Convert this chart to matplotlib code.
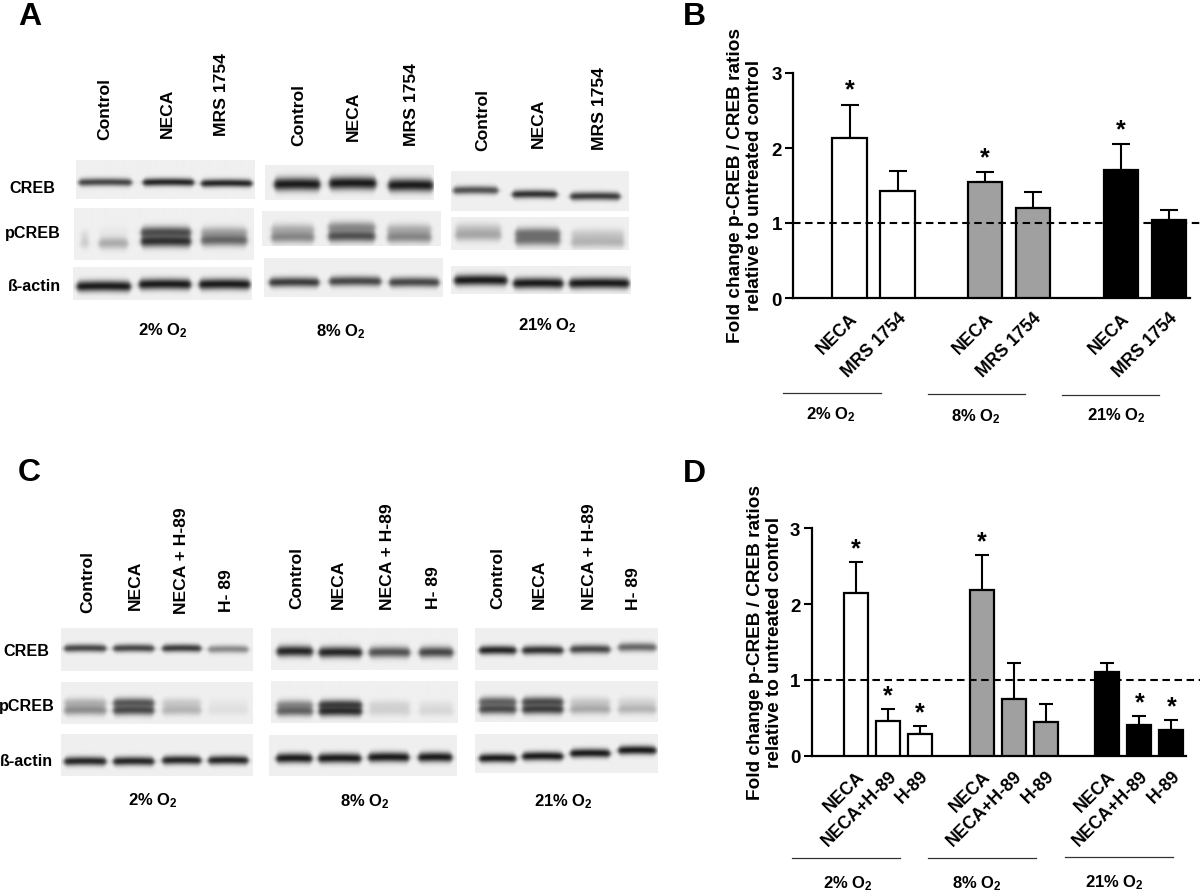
"""
Western blots and fold change bar charts (panels A-D).
"""

import matplotlib
matplotlib.use('Agg')
import matplotlib.pyplot as plt
import numpy as np

plt.rcParams['font.family'] = ['Liberation Sans', 'DejaVu Sans']
plt.rcParams['font.weight'] = 'bold'
plt.rcParams['mathtext.fontset'] = 'custom'
plt.rcParams['mathtext.bf'] = 'Liberation Sans:bold'
plt.rcParams['mathtext.rm'] = 'Liberation Sans:bold'
plt.rcParams['mathtext.default'] = 'bf'

# bar chart values
b_labels = ['NECA', 'MRS 1754', 'NECA', 'MRS 1754', 'NECA', 'MRS 1754']
b_means = [2.13, 1.43, 1.55, 1.20, 1.71, 1.04]
b_tops = [2.58, 1.69, 1.68, 1.41, 2.05, 1.17]
b_stars = [True, False, True, False, True, False]

d_labels = ['NECA', 'NECA+H-89', 'H-89'] * 3
d_means = [2.15, 0.46, 0.29, 2.18, 0.75, 0.45, 1.11, 0.41, 0.34]
d_tops = [2.55, 0.62, 0.39, 2.64, 1.23, 0.68, 1.23, 0.52, 0.47]
d_stars = [True, True, True, True, False, False, False, True, True]

o2_labels = ['2% O$_2$', '8% O$_2$', '21% O$_2$']
y_text = 'Fold change p-CREB / CREB ratios\nrelative to untreated control'

# band darkness per lane, read from the blots (0 = none, 1 = black)
a_creb = [[.75, .9, .9], [.95, .95, .95], [.7, .85, .8]]
a_pcreb_up = [[.08, .03, .7, .3], [.25, .42, .25], [.15, .5, .15]]
a_pcreb_low = [[.15, .3, .85, .6], [.45, .7, .45], [.3, .5, .25]]
a_actin = [[.95, .95, .95], [.8, .75, .75], [.95, .95, .95]]

c_creb = [[.75, .75, .8, .45], [.9, .9, .7, .75], [.9, .85, .75, .6]]
c_pcreb_up = [[.25, .65, .15, .03], [.4, .75, .1, .05], [.6, .7, .15, .1]]
c_pcreb_low = [[.42, .72, .25, .07], [.6, .85, .12, .1], [.72, .78, .3, .25]]
c_actin = [[.9, .9, .9, .9], [.95, .95, .95, .95], [.95, .95, .95, .95]]


def draw_blot(ax, rect, lanes, rows):
    """Draw one blot strip. rows holds (y, half thickness, darkness per lane)."""
    x0, y0, x1, y1 = rect
    xx = np.arange(x0, x1, 0.5)
    yy = np.arange(y0, y1, 0.5)
    X, Y = np.meshgrid(xx, yy)
    img = np.full(X.shape, 0.94)
    for y, thick, darks in rows:
        ys = y if np.ndim(y) else [y] * len(lanes)
        for (a, b), yc, dark in zip(lanes, ys, darks):
            mid = (a + b) / 2
            half = (b - a) / 2
            px = 0.5 * (np.tanh((X - a) / 2.5) - np.tanh((X - b) / 2.5))
            centre = yc + 0.5 * ((X - mid) / half) ** 2 - 0.25
            width = thick * (0.6 + 0.4 * px)
            py = np.exp(-np.abs((Y - centre) / width) ** 2.0)
            img *= 1 - 0.93 * dark * px * py
    ax.imshow(img, extent=(x0, x1, y1, y0), cmap='gray', vmin=0, vmax=1,
              aspect='auto', interpolation='bilinear', zorder=1)


def draw_bars(fig_rect, pos, means, tops, labels, stars, colors, width, cap, xlim, dash_end, star_gap):
    """Bar chart with upper error bars, dashed line at 1 and rotated labels."""
    ax = fig.add_axes(fig_rect, facecolor='none')
    ax.bar(pos, means, width=width, color=colors, edgecolor='black', linewidth=1.6, zorder=3)
    err = np.array(tops) - np.array(means)
    ax.errorbar(pos, means, yerr=[np.zeros(len(err)), err], fmt='none', ecolor='black',
                elinewidth=1.5, capsize=cap, capthick=1.5, zorder=2)
    ax.plot([xlim[0], dash_end], [1, 1], color='black', linestyle=(0, (3.6, 2.2)), linewidth=1.5,
            clip_on=False, zorder=4)
    for p, t, s in zip(pos, tops, stars):
        if s:
            ax.text(p, t + star_gap, '*', ha='center', va='center', fontsize=18, zorder=5)
    ax.set_xlim(*xlim)
    ax.set_ylim(0, 3)
    ax.set_yticks([0, 1, 2, 3])
    ax.set_xticks(pos)
    ax.set_xticklabels(labels, rotation=45, ha='right', va='top', rotation_mode='anchor', fontsize=12.7)
    ax.tick_params(axis='x', length=0, pad=8)
    ax.tick_params(axis='y', length=6, width=1.5, labelsize=13.5, pad=2)
    for side in ['top', 'right']:
        ax.spines[side].set_visible(False)
    for side in ['left', 'bottom']:
        ax.spines[side].set_linewidth(1.6)
    return ax


fig = plt.figure(figsize=(12, 8.95), dpi=100)
bg = fig.add_axes([0, 0, 1, 1])

# panel A blots
a_rects = [
    [(75.5, 161, 254, 200), (73.5, 209, 253, 261), (72.5, 268, 251, 301)],
    [(265, 166, 434, 201), (262, 212, 441, 247), (264, 259, 443, 298)],
    [(451, 172, 629, 212), (451, 218, 629, 251), (451, 267, 631, 295)],
]
a_creb_lanes = [[(78, 131), (142, 193), (200, 251)], [(274, 320), (329, 376), (388, 433)],
                [(453, 498), (512, 557), (570, 620)]]
a_pcreb_lanes = [[(80, 88), (98, 127), (140, 190), (200, 246)], [(271, 314), (328, 375), (387, 431)],
                 [(455, 501), (515, 560), (571, 624)]]
a_actin_lanes = [[(76, 130), (138, 190), (198, 249)], [(269, 319), (329, 381), (389, 439)],
                 [(454, 507), (513, 563), (569, 629)]]
a_creb_y = [[183, 183, 184], [185, 184, 186], [191, 195, 197]]
a_creb_t = [4, 6.5, 4.2]
a_up_y = [[236, 233, 233, 233], [230, 228, 230], [229, 234, 235]]
a_low_y = [[244, 244, 242, 241], [238, 237, 238], [236, 241, 243]]
a_actin_y = [[287, 285, 285], [283, 282, 283], [281, 284, 284]]
a_actin_t = [5.5, 5, 5.5]

for i in range(3):
    draw_blot(bg, a_rects[i][0], a_creb_lanes[i], [(a_creb_y[i], a_creb_t[i], a_creb[i])])
    draw_blot(bg, a_rects[i][1], a_pcreb_lanes[i], [(a_up_y[i], 5.8, a_pcreb_up[i]), (a_low_y[i], 6, a_pcreb_low[i])])
    draw_blot(bg, a_rects[i][2], a_actin_lanes[i], [(a_actin_y[i], a_actin_t[i], a_actin[i])])

# panel C blots
c_rects = [
    [(61, 629, 253, 672), (61, 683, 253, 725), (61, 735, 253, 777)],
    [(270.5, 629, 457, 671), (270.5, 682, 457, 724), (269, 736, 457, 777)],
    [(475, 629, 658, 671), (475, 682, 658, 723), (475, 735, 658, 774)],
]
c_lanes = [[(64, 106), (113, 154), (162, 201), (208, 248)],
           [(276, 312), (318, 361), (368, 409), (418, 452)],
           [(479, 516), (522, 563), (570, 610), (618, 656)]]
c_creb_y = [[649, 649, 649, 650], [652, 653, 653, 653], [651, 651, 650, 648]]
c_up_y = [703.5, 705.5, 702.5]
c_low_y = [711, 712, 710]
c_actin_y = [[762, 762, 761, 761], [759, 759, 758, 758], [759, 757, 754, 751]]
c_creb_t = [4, 5.5, 4.5]
c_actin_t = [4.5, 5, 4.5]

for i in range(3):
    draw_blot(bg, c_rects[i][0], c_lanes[i], [(c_creb_y[i], c_creb_t[i], c_creb[i])])
    draw_blot(bg, c_rects[i][1], c_lanes[i], [(c_up_y[i], 5, c_pcreb_up[i]), (c_low_y[i], 5.2, c_pcreb_low[i])])
    draw_blot(bg, c_rects[i][2], c_lanes[i], [(c_actin_y[i], c_actin_t[i], c_actin[i])])

bg.set_xlim(0, 1200)
bg.set_ylim(895, 0)
bg.axis('off')

# lane names above the blots
lane_a = ['Control', 'NECA', 'MRS 1754'] * 3
lane_a_x = [105, 167, 221, 299, 353, 412, 483, 538, 600]
lane_a_y = [140, 138, 136, 146, 141, 146, 151, 148, 150]
for s, x, y in zip(lane_a, lane_a_x, lane_a_y):
    bg.text(x, y, s, rotation=90, ha='center', va='bottom', fontsize=12.6)

lane_c = ['Control', 'NECA', 'NECA + H-89', 'H- 89'] * 3
lane_c_x = [88, 135, 182, 226.5, 297, 338, 388, 433, 498, 539, 590, 634]
lane_c_y = [613, 610, 614, 612, 609, 609, 610, 609, 609, 609, 610, 610]
for s, x, y in zip(lane_c, lane_c_x, lane_c_y):
    bg.text(x, y, s, rotation=90, ha='center', va='bottom', fontsize=12.6)

# blot row names and oxygen labels
for s, x, y in zip(['CREB', 'pCREB', 'ß-actin'], [32, 33, 34], [188, 233, 286]):
    bg.text(x, y, s, ha='center', va='center', fontsize=11.6)
for s, x, y in zip(['CREB', 'pCREB', 'ß-actin'], [26, 27, 26], [652, 707, 761]):
    bg.text(x, y, s, ha='center', va='center', fontsize=11.6)
for s, x, y in zip(o2_labels, [163, 341, 547], [331, 332, 326]):
    bg.text(x, y, s, ha='center', va='center', fontsize=12)
for s, x, y in zip(o2_labels, [153, 365, 563], [801, 802, 802]):
    bg.text(x, y, s, ha='center', va='center', fontsize=12)
for s, x, y in zip(o2_labels, [831, 976, 1116], [415, 417, 416]):
    bg.text(x, y, s, ha='center', va='center', fontsize=12)
for s, x, y in zip(o2_labels, [848, 977, 1114], [884, 884, 883]):
    bg.text(x, y, s, ha='center', va='center', fontsize=12)

# group separators
for x0, x1, y in [(783, 881, 394), (928, 1025, 395), (1062, 1159, 396),
                  (792, 900, 859), (928, 1036, 859), (1065, 1173, 858)]:
    bg.plot([x0, x1], [y, y], color='#333333', linewidth=0.9)

# panel letters
for s, x, y in zip('ABCD', [18, 683, 18, 683], [17, 17, 473, 474]):
    bg.text(x, y, s, ha='left', va='center', fontsize=23)

# y axis titles
bg.text(745, 185, y_text, rotation=90, ha='center', va='center', fontsize=13.7, linespacing=1.08)
bg.text(765, 642, y_text, rotation=90, ha='center', va='center', fontsize=13.7, linespacing=1.08)

W, H = 1200.0, 895.0

# panel B
b_pos = [0, 1, 2.82, 3.82, 5.65, 6.65]
b_colors = ['white', 'white', '#a0a0a0', '#a0a0a0', 'black', 'black']
rect_b = [793 / W, (H - 299) / H, (1190 - 793) / W, 225 / H]
draw_bars(rect_b, b_pos, b_means, b_tops, b_labels, b_stars, b_colors, 0.72, 6.5,
          (-1.177, 7.09), 7.30, 0.2)

# panel D
d_pos = [0, 1, 2, 3.93, 4.93, 5.93, 7.85, 8.85, 9.85]
d_colors = ['white'] * 3 + ['#a0a0a0'] * 3 + ['black'] * 3
rect_d = [811.5 / W, (H - 757) / H, (1186 - 811.5) / W, 228 / H]
draw_bars(rect_d, d_pos, d_means, d_tops, d_labels, d_stars, d_colors, 0.76, 4.7,
          (-1.39, 10.31), 10.94, 0.18)

plt.savefig('out.png', dpi=100)
plt.close()
